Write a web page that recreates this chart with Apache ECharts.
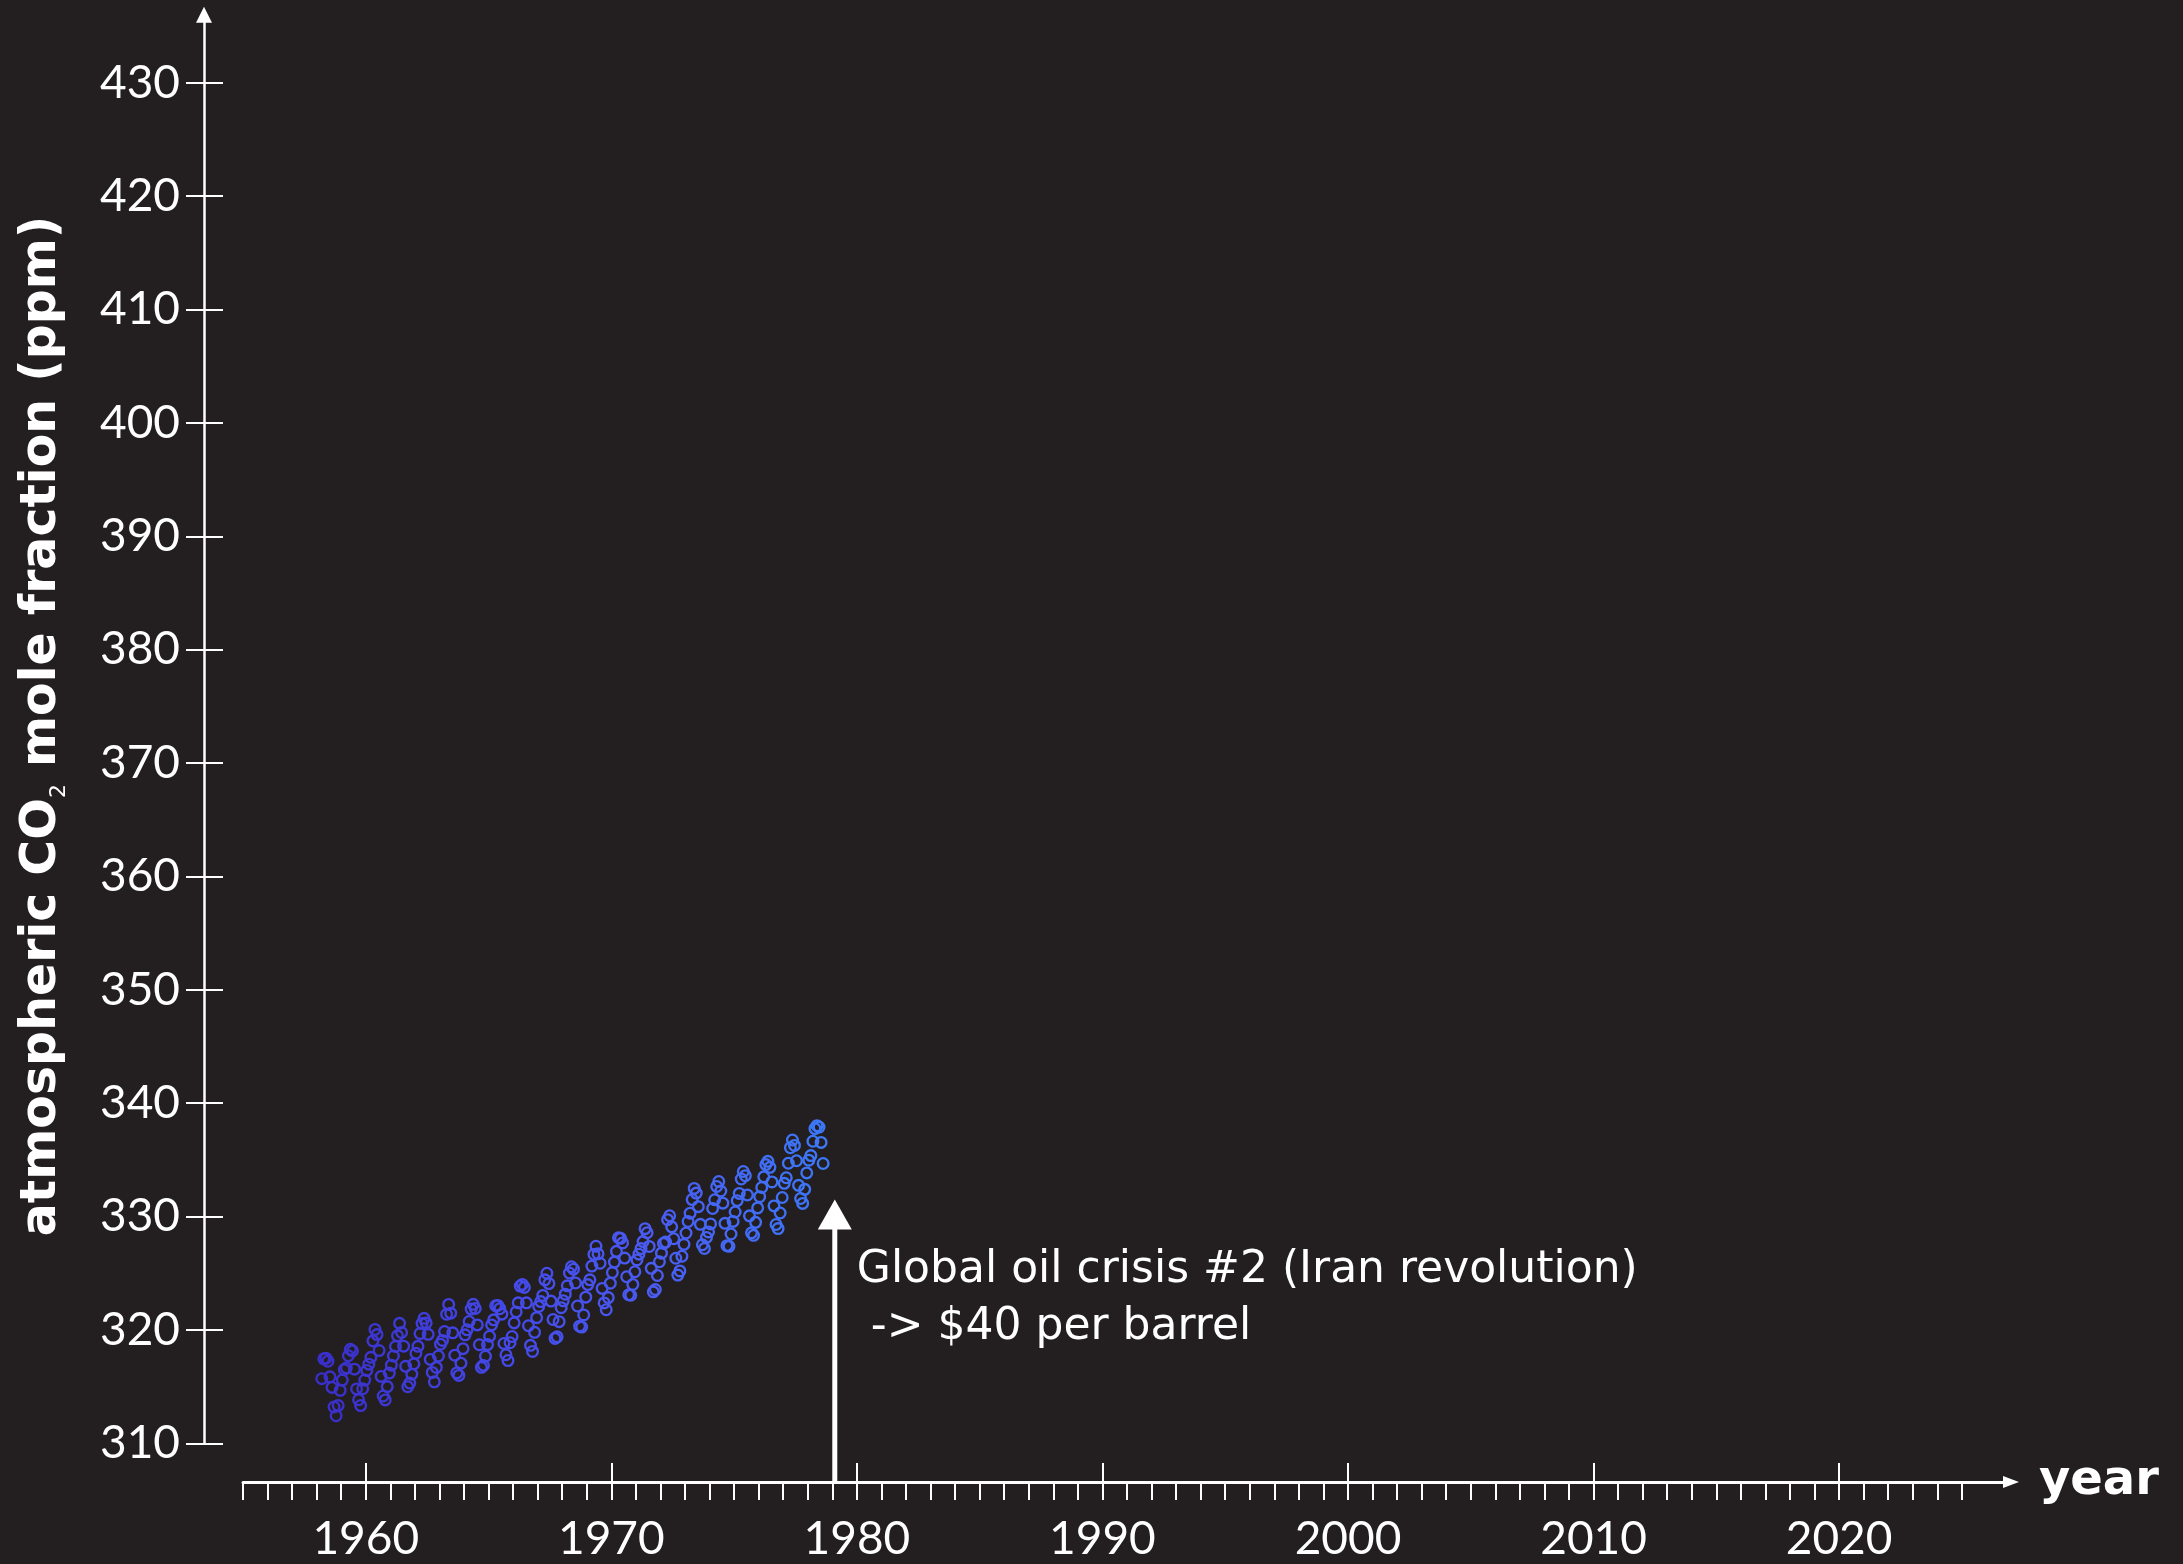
<!DOCTYPE html>
<html>
<head>
<meta charset="utf-8">
<title>Atmospheric CO2 at Mauna Loa, 1958–1978</title>
<script src="https://cdn.jsdelivr.net/npm/echarts@6/dist/echarts.min.js"></script>
<style>
  html, body { margin: 0; padding: 0; background: #231f20; }
  #chart { width: 2183px; height: 1564px; }
</style>
</head>
<body>
<div id="chart"></div>
<script>
// Monthly mean CO2 (ppm), Mauna Loa, starting March 1958
const firstYear = 1958;
const firstMonth = 3;
const co2ppm = [
  315.70, 317.45, 317.51, 317.24, 315.86, 314.93, 313.20, 312.43, 313.33, 314.67,
  315.58, 316.49, 316.65, 317.72, 318.29, 318.15, 316.54, 314.80, 313.84, 313.33, 314.81, 315.58,
  316.43, 316.98, 317.58, 319.03, 320.04, 319.59, 318.18, 315.90, 314.17, 313.83, 315.00, 316.19,
  316.89, 317.70, 318.54, 319.48, 320.58, 319.77, 318.57, 316.79, 314.99, 315.31, 316.10, 317.01,
  317.94, 318.55, 319.68, 320.57, 321.02, 320.62, 319.61, 317.40, 316.25, 315.42, 316.69, 317.70,
  318.74, 319.07, 319.86, 321.38, 322.25, 321.48, 319.74, 317.77, 316.21, 315.99, 317.07, 318.35,
  319.57, 320.01, 320.74, 321.84, 322.26, 321.89, 320.44, 318.69, 316.70, 316.87, 317.68, 318.71,
  319.44, 320.44, 320.89, 322.13, 322.16, 321.87, 321.39, 318.80, 317.81, 317.30, 318.87, 319.42,
  320.62, 321.59, 322.39, 323.87, 324.01, 323.75, 322.39, 320.37, 318.64, 318.10, 319.79, 321.08,
  322.07, 322.50, 323.04, 324.42, 325.00, 324.09, 322.54, 320.92, 319.25, 319.39, 320.73, 321.96,
  322.57, 323.15, 323.89, 325.02, 325.57, 325.36, 324.14, 322.11, 320.33, 320.25, 321.32, 322.89,
  324.00, 324.42, 325.63, 326.66, 327.38, 326.71, 325.88, 323.66, 322.38, 321.78, 322.85, 324.12,
  325.06, 325.98, 326.93, 328.13, 328.08, 327.67, 326.34, 324.69, 323.10, 323.06, 324.01, 325.13,
  326.17, 326.68, 327.17, 327.79, 328.93, 328.57, 327.36, 325.43, 323.36, 323.56, 324.80, 326.01,
  326.77, 327.63, 327.75, 329.72, 330.07, 329.09, 328.04, 326.32, 324.84, 325.20, 326.50, 327.55,
  328.55, 329.56, 330.30, 331.50, 332.48, 332.07, 330.87, 329.31, 327.51, 327.18, 328.16, 328.64,
  329.35, 330.71, 331.48, 332.65, 333.09, 332.25, 331.18, 329.40, 327.43, 327.37, 328.46, 329.57,
  330.40, 331.40, 332.04, 333.31, 333.97, 333.60, 331.90, 330.06, 328.56, 328.34, 329.49, 330.76,
  331.75, 332.56, 333.50, 334.58, 334.87, 334.34, 333.05, 330.94, 329.30, 328.94, 330.31, 331.68,
  332.93, 333.42, 334.70, 336.07, 336.75, 336.27, 334.92, 332.75, 331.59, 331.16, 332.40, 333.85,
  334.97, 335.38, 336.64, 337.76, 338.01, 337.89, 336.54, 334.68
];

// Axis ticks and labels
const yearTicks = [1960, 1970, 1980, 1990, 2000, 2010, 2020];
const minorYearTicks = [];
for (let y = 1955; y <= 2025; y++) minorYearTicks.push(y);
const ppmTicks = [310, 320, 330, 340, 350, 360, 370, 380, 390, 400, 410, 420, 430];

// Annotated event
const eventYear = [1979.1];
const eventArrowTip = [331.5];
const eventText = ['Global oil crisis #2 (Iran revolution)\n -> $40 per barrel'];

// Mid-month decimal dates for each monthly value
const points = co2ppm.map((v, i) => {
  const m = firstMonth - 1 + i;
  const year = firstYear + Math.floor(m / 12);
  const month = m % 12;
  return [year + (month + 0.5) / 12, v];
});

const FONT = 'Lato, "Noto Sans", "DejaVu Sans", sans-serif';
const WIDE_FONT = '"DejaVu Sans", Lato, sans-serif';
const WHITE = '#ffffff';
const X_OFFSET = 38.7;
const Y_OFFSET = 39;

// Hollow ring marker
const RING = 'path://M0,-1A1,1 0 1,1 0,1A1,1 0 1,1 0,-1Z M0,-0.64A0.64,0.64 0 1,0 0,0.64A0.64,0.64 0 1,0 0,-0.64Z';

const chart = echarts.init(document.getElementById('chart'), null, { renderer: 'canvas' });

const baseX = {
  type: 'value', min: 1955, max: 2027, position: 'bottom', offset: X_OFFSET,
  splitLine: { show: false }, minorTick: { show: false }
};
const baseY = {
  type: 'value', min: 310, max: 436, position: 'left', offset: Y_OFFSET,
  splitLine: { show: false }, minorTick: { show: false }
};

chart.setOption({
  backgroundColor: '#231f20',
  animation: false,
  grid: { left: 243, right: 172, top: 14.7, bottom: 120.7, containLabel: false, outerBoundsMode: 'none' },
  xAxis: [
    Object.assign({}, baseX, {
      name: 'year', nameLocation: 'end', nameGap: 28,
      nameTextStyle: { color: WHITE, fontFamily: WIDE_FONT, fontWeight: 'bold', fontSize: 48, verticalAlign: 'middle', padding: [0, 0, 6, 0] },
      axisLine: { show: true, lineStyle: { color: WHITE, width: 3 }, symbol: ['none', 'triangle'], symbolSize: [12, 16] },
      axisTick: { show: true, inside: false, length: 18, customValues: minorYearTicks, lineStyle: { color: WHITE, width: 2 } },
      axisLabel: { show: false }
    }),
    Object.assign({}, baseX, {
      axisLine: { show: false },
      axisTick: { show: true, inside: true, length: 19, customValues: yearTicks, lineStyle: { color: WHITE, width: 2 } },
      axisLabel: { show: true, customValues: yearTicks, margin: 34, color: WHITE, fontFamily: FONT, fontSize: 46,
        formatter: v => String(v) }
    })
  ],
  yAxis: [
    Object.assign({}, baseY, {
      axisLine: { show: true, lineStyle: { color: WHITE, width: 2.5 }, symbol: ['none', 'triangle'], symbolSize: [16, 16] },
      axisTick: { show: true, inside: true, length: 19, customValues: ppmTicks, lineStyle: { color: WHITE, width: 2 } },
      axisLabel: { show: false }
    }),
    Object.assign({}, baseY, {
      axisLine: { show: false },
      axisTick: { show: true, inside: false, length: 18, customValues: ppmTicks, lineStyle: { color: WHITE, width: 2 } },
      axisLabel: { show: true, customValues: ppmTicks, margin: 24, color: WHITE, fontFamily: FONT, fontSize: 46,
        formatter: v => String(v) }
    })
  ],
  visualMap: {
    type: 'continuous', show: false, seriesIndex: 0, dimension: 0,
    min: 1958.2, max: 1978.6,
    inRange: { color: ['#3a2ec8', '#4347e6', '#4a5cf2', '#3c78f7'] }
  },
  graphic: [{
    type: 'text',
    x: 42, y: 726,
    rotation: Math.PI / 2,
    style: {
      text: '{t|atmospheric CO}{s|2}{t| mole fraction (ppm)}',
      align: 'center', verticalAlign: 'middle',
      fill: WHITE,
      rich: {
        t: { fontFamily: WIDE_FONT, fontWeight: 'bold', fontSize: 49, fill: WHITE, lineHeight: 56 },
        s: { fontFamily: WIDE_FONT, fontWeight: 'normal', fontSize: 22, fill: WHITE, verticalAlign: 'bottom', lineHeight: 56 }
      }
    }
  }],
  series: [
    {
      type: 'scatter',
      xAxisIndex: 0, yAxisIndex: 0,
      data: points,
      symbol: RING,
      symbolSize: 13,
      itemStyle: { opacity: 1 },
      z: 3
    },
    {
      type: 'custom',
      xAxisIndex: 0, yAxisIndex: 0,
      data: eventYear.map((y, i) => [y, eventArrowTip[i], i]),
      clip: false,
      z: 4,
      renderItem: function (params, api) {
        const tip = api.coord([api.value(0), api.value(1)]);
        const base = params.coordSys.y + params.coordSys.height + X_OFFSET;
        const headH = 30, headW = 34;
        return {
          type: 'group',
          children: [
            { type: 'line', shape: { x1: tip[0], y1: base, x2: tip[0], y2: tip[1] + headH - 1 },
              style: { stroke: WHITE, lineWidth: 5 } },
            { type: 'polygon', shape: { points: [[tip[0], tip[1]], [tip[0] - headW / 2, tip[1] + headH], [tip[0] + headW / 2, tip[1] + headH]] },
              style: { fill: WHITE } },
            { type: 'text', x: tip[0] + 22, y: tip[1] + 43,
              style: { text: eventText[api.value(2)], fill: WHITE, fontFamily: WIDE_FONT, fontSize: 44, lineHeight: 57, align: 'left', verticalAlign: 'top' } }
          ]
        };
      }
    }
  ]
});
</script>
</body>
</html>
